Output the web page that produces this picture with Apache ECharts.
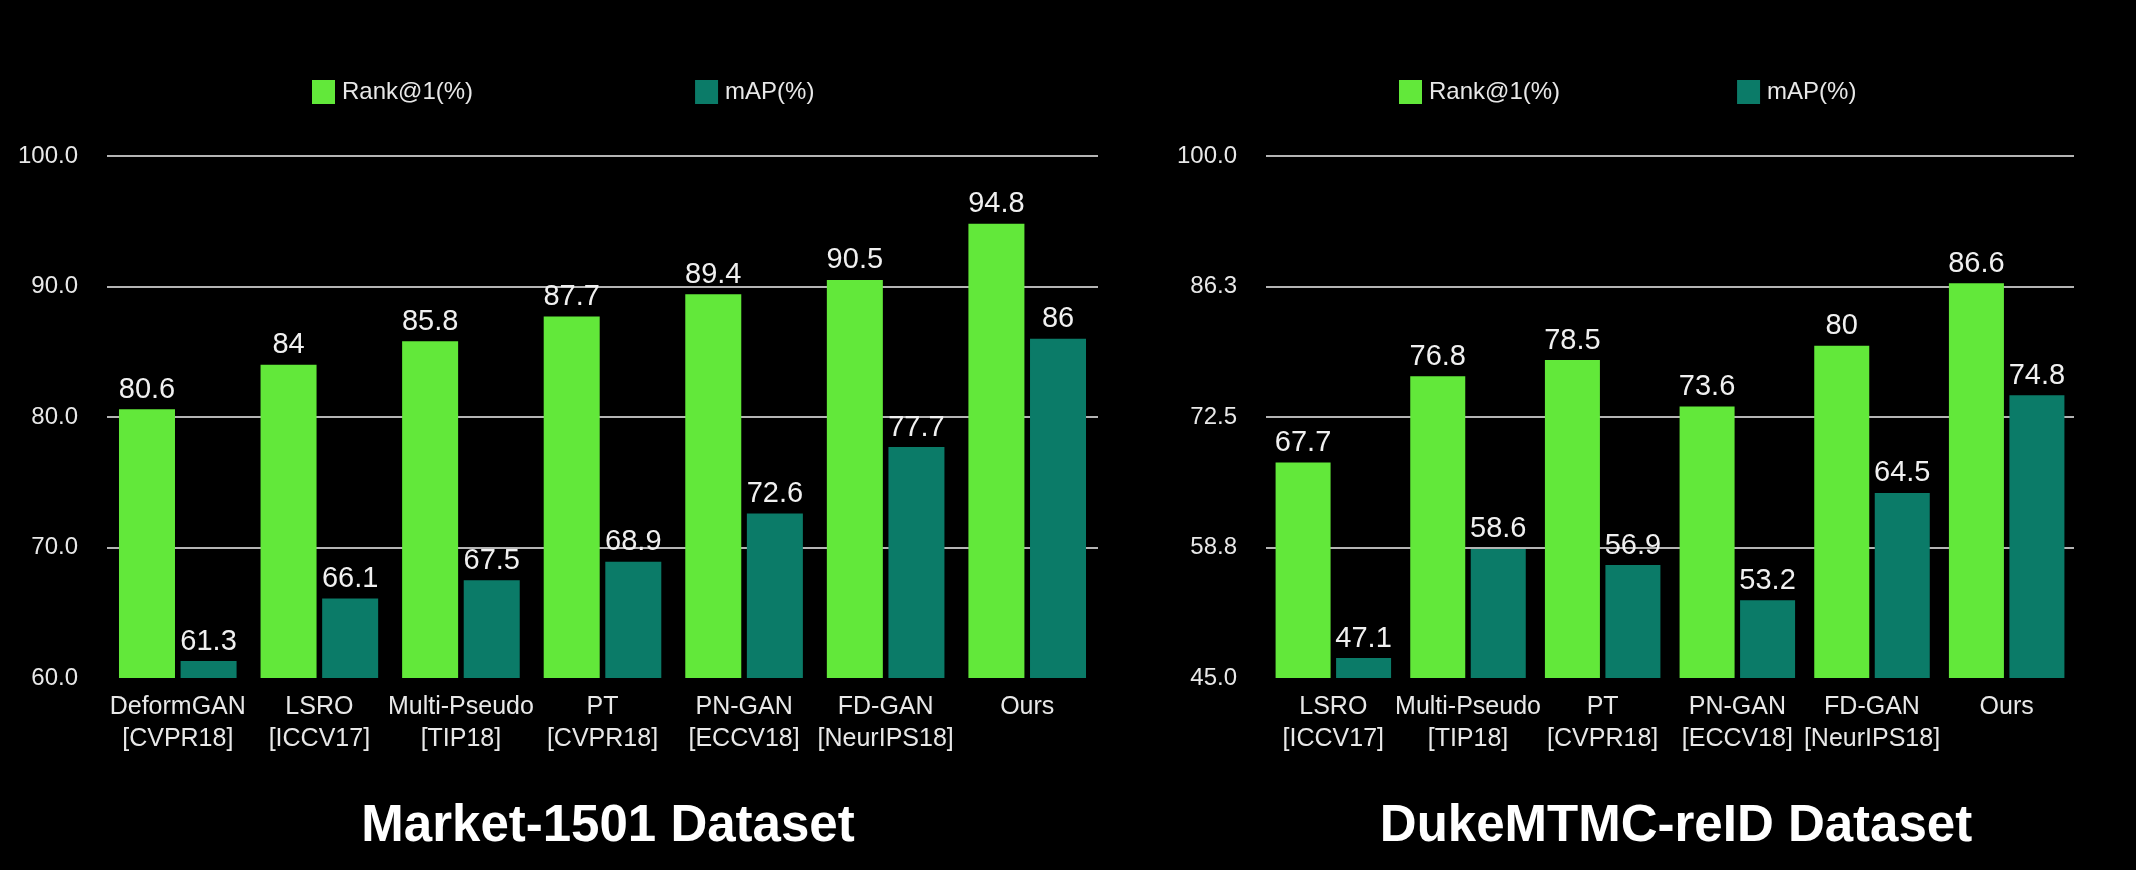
<!DOCTYPE html>
<html>
<head>
<meta charset="utf-8">
<script src="https://cdn.jsdelivr.net/npm/echarts@6/dist/echarts.min.js"></script>
<style>
html,body{margin:0;padding:0;background:#000;}
#chart{width:2136px;height:870px;}
</style>
</head>
<body>
<div id="chart"></div>
<script>
// ---- data ----
const marketCategories = ['DeformGAN\n[CVPR18]', 'LSRO\n[ICCV17]', 'Multi-Pseudo\n[TIP18]', 'PT\n[CVPR18]', 'PN-GAN\n[ECCV18]', 'FD-GAN\n[NeurIPS18]', 'Ours'];
const marketRank1 = [80.6, 84, 85.8, 87.7, 89.4, 90.5, 94.8];
const marketMAP = [61.3, 66.1, 67.5, 68.9, 72.6, 77.7, 86];

const dukeCategories = ['LSRO\n[ICCV17]', 'Multi-Pseudo\n[TIP18]', 'PT\n[CVPR18]', 'PN-GAN\n[ECCV18]', 'FD-GAN\n[NeurIPS18]', 'Ours'];
const dukeRank1 = [67.7, 76.8, 78.5, 73.6, 80, 86.6];
const dukeMAP = [47.1, 58.6, 56.9, 53.2, 64.5, 74.8];

const seriesNames = ['Rank@1(%)', 'mAP(%)'];
const titles = ['Market-1501 Dataset', 'DukeMTMC-reID Dataset'];
const marketAxis = {min: 60, max: 100, interval: 10};
const dukeAxis = {min: 45, max: 100, interval: 13.75};

// ---- styles ----
const GREEN = '#62e83a';
const TEAL = '#0b7b68';
const FONT = '"Liberation Sans", Arial, Helvetica, sans-serif';
const TEXT = '#e8e8e8';

const chart = echarts.init(document.getElementById('chart'), null, {renderer: 'canvas'});

function yAxis(gridIndex, ax) {
  return {
    type: 'value', gridIndex: gridIndex,
    min: ax.min, max: ax.max, interval: ax.interval,
    axisLine: {show: false}, axisTick: {show: false},
    axisLabel: {color: TEXT, fontSize: 24, fontFamily: FONT, margin: 29,
      formatter: v => v.toFixed(1)},
    splitLine: {show: true, showMinLine: false, lineStyle: {color: '#b4b4b4', width: 2}}
  };
}
function xAxis(gridIndex, cats) {
  return {
    type: 'category', gridIndex: gridIndex, data: cats,
    axisLine: {show: false}, axisTick: {show: false},
    axisLabel: {color: TEXT, fontSize: 25, fontFamily: FONT, lineHeight: 32, margin: 13, interval: 0}
  };
}
function bar(name, data, idx, color, width) {
  return {
    type: 'bar', name: name, data: data,
    xAxisIndex: idx, yAxisIndex: idx,
    barWidth: width, barGap: '10%',
    itemStyle: {color: color},
    label: {show: true, position: 'top', distance: 5, color: '#f0f0f0', fontSize: 29, fontFamily: FONT},
    emphasis: {disabled: true},
    animation: false
  };
}
function legend(left, gap) {
  return {
    left: left, top: 75, itemWidth: 23, itemHeight: 24, itemGap: gap,
    icon: 'rect', data: seriesNames, selectedMode: false,
    textStyle: {color: TEXT, fontSize: 24, fontFamily: FONT, padding: [0, 0, 0, 2]}
  };
}
const titleStyle = {color: '#fff', fontSize: 51, fontWeight: 'bold', fontFamily: FONT};

chart.setOption({
  backgroundColor: '#000',
  animation: false,
  title: [
    {text: titles[0], left: 603, top: 796, textAlign: 'center', textStyle: titleStyle},
    {text: titles[1], left: 1671, top: 796, textAlign: 'center', textStyle: titleStyle}
  ],
  legend: [legend(307, 222), legend(1394, 177)],
  grid: [
    {left: 107, top: 156, width: 991, height: 522},
    {left: 1266, top: 156, width: 808, height: 522}
  ],
  xAxis: [xAxis(0, marketCategories), xAxis(1, dukeCategories)],
  yAxis: [yAxis(0, marketAxis), yAxis(1, dukeAxis)],
  series: [
    bar(seriesNames[0], marketRank1, 0, GREEN, 56),
    bar(seriesNames[1], marketMAP, 0, TEAL, 56),
    bar(seriesNames[0], dukeRank1, 1, GREEN, 55),
    bar(seriesNames[1], dukeMAP, 1, TEAL, 55)
  ]
});
</script>
</body>
</html>
